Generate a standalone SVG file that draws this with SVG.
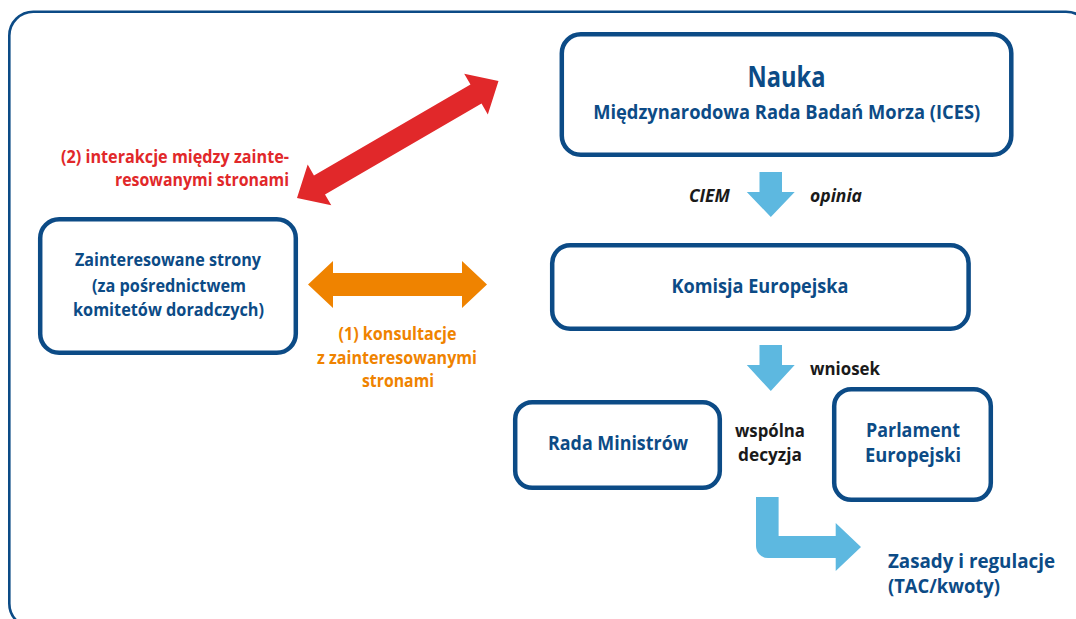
<svg xmlns="http://www.w3.org/2000/svg" width="1076" height="619" viewBox="0 0 1076 619">
<style>
.box{fill:#fff;stroke:#0c4b86;stroke-width:4.5}
.t{font-family:"Open Sans","Noto Sans",sans-serif;font-weight:700;fill:#0c4b86;text-anchor:middle}
.k{font-family:"Open Sans","Noto Sans",sans-serif;font-weight:700;fill:#1a1a1a;text-anchor:middle;font-size:17.5px}
.i{font-style:italic}
.red{font-family:"Open Sans","Noto Sans",sans-serif;font-weight:700;fill:#e1282a;text-anchor:end;font-size:17.5px}
.org{font-family:"Open Sans","Noto Sans",sans-serif;font-weight:700;fill:#ef8300;text-anchor:middle;font-size:17.5px}
.blue{fill:#5db8e0}
</style>
<rect x="9.3" y="11.7" width="1080.7" height="615.8" rx="24" fill="none" stroke="#0c4b86" stroke-width="2.6"/>

<g id="connectors">
  <polygon id="red-arrow" fill="#e1282a" transform="translate(397.75,139.5) rotate(-30.14)" points="116.5,0 90.5,-23.5 90.5,-11 -90.5,-11 -90.5,-23.5 -116.5,0 -90.5,23.5 -90.5,11 90.5,11 90.5,23.5"/>
  <polygon id="orange-arrow" fill="#ef8300" points="308,284.5 333,261 333,273 462,273 462,261 487,284.5 462,308 462,296 333,296 333,308"/>
  <polygon id="ciem-arrow" class="blue" points="759.5,172 782,172 782,192 794.7,192 770.8,217 746.8,192 759.5,192"/>
  <polygon id="wniosek-arrow" class="blue" points="759.5,345 782,345 782,365 794.7,365 770.8,391 746.8,365 759.5,365"/>
  <path id="bent-arrow" class="blue" d="M756,497 H778.6 V536 H835.7 V523 L861,547 L835.7,571 V558 H768 A12 12 0 0 1 756 546 Z"/>
</g>

<g id="labels">
  <text class="red" x="289" y="162.5" textLength="228" lengthAdjust="spacingAndGlyphs">(2) interakcje między zainte-</text>
  <text class="red" x="289" y="185.5" textLength="174" lengthAdjust="spacingAndGlyphs">resowanymi stronami</text>
  <text class="org" x="397.5" y="340" textLength="118" lengthAdjust="spacingAndGlyphs">(1) konsultacje</text>
  <text class="org" x="397" y="364" textLength="160" lengthAdjust="spacingAndGlyphs">z zainteresowanymi</text>
  <text class="org" x="398" y="387" textLength="72" lengthAdjust="spacingAndGlyphs">stronami</text>
  <text class="k i" x="709.4" y="201.5" textLength="41" lengthAdjust="spacingAndGlyphs">CIEM</text>
  <text class="k i" x="836" y="201.5" textLength="52" lengthAdjust="spacingAndGlyphs">opinia</text>
  <text class="k" x="845" y="375" textLength="70" lengthAdjust="spacingAndGlyphs">wniosek</text>
  <text class="k" x="770" y="437" textLength="70" lengthAdjust="spacingAndGlyphs">wspólna</text>
  <text class="k" x="770" y="461" textLength="64" lengthAdjust="spacingAndGlyphs">decyzja</text>
</g>

<g id="nauka">
  <rect class="box" x="561.8" y="34.3" width="449.5" height="120.5" rx="19"/>
  <text class="t" x="786.5" y="87" font-size="29" textLength="78" lengthAdjust="spacingAndGlyphs">Nauka</text>
  <text class="t" x="786.7" y="119" font-size="19.5" textLength="387" lengthAdjust="spacingAndGlyphs">Międzynarodowa Rada Badań Morza (ICES)</text>
</g>

<g id="komisja">
  <rect class="box" x="552.2" y="245.2" width="416.4" height="83.6" rx="18"/>
  <text class="t" x="760" y="293" font-size="19.5" textLength="177" lengthAdjust="spacingAndGlyphs">Komisja Europejska</text>
</g>

<g id="zainteresowane">
  <rect class="box" x="40.2" y="219.2" width="255.6" height="133.6" rx="19"/>
  <text class="t" x="168" y="266" font-size="17.5" textLength="186" lengthAdjust="spacingAndGlyphs">Zainteresowane strony</text>
  <text class="t" x="169" y="292" font-size="17.5" textLength="154" lengthAdjust="spacingAndGlyphs">(za pośrednictwem</text>
  <text class="t" x="168.5" y="316" font-size="17.5" textLength="191" lengthAdjust="spacingAndGlyphs">komitetów doradczych)</text>
</g>

<g id="rada">
  <rect class="box" x="515.2" y="402.2" width="204.6" height="85.6" rx="17"/>
  <text class="t" x="618" y="450" font-size="19.5" textLength="140" lengthAdjust="spacingAndGlyphs">Rada Ministrów</text>
</g>

<g id="parlament">
  <rect class="box" x="834.2" y="389.2" width="156.6" height="110.6" rx="17"/>
  <text class="t" x="913" y="437" font-size="19.5" textLength="94" lengthAdjust="spacingAndGlyphs">Parlament</text>
  <text class="t" x="913" y="462" font-size="19.5" textLength="96" lengthAdjust="spacingAndGlyphs">Europejski</text>
</g>

<g id="zasady">
  <text class="t" x="888" y="568" font-size="19.5" style="text-anchor:start" textLength="167" lengthAdjust="spacingAndGlyphs">Zasady i regulacje</text>
  <text class="t" x="888" y="593" font-size="19.5" style="text-anchor:start" textLength="112" lengthAdjust="spacingAndGlyphs">(TAC/kwoty)</text>
</g>
</svg>
